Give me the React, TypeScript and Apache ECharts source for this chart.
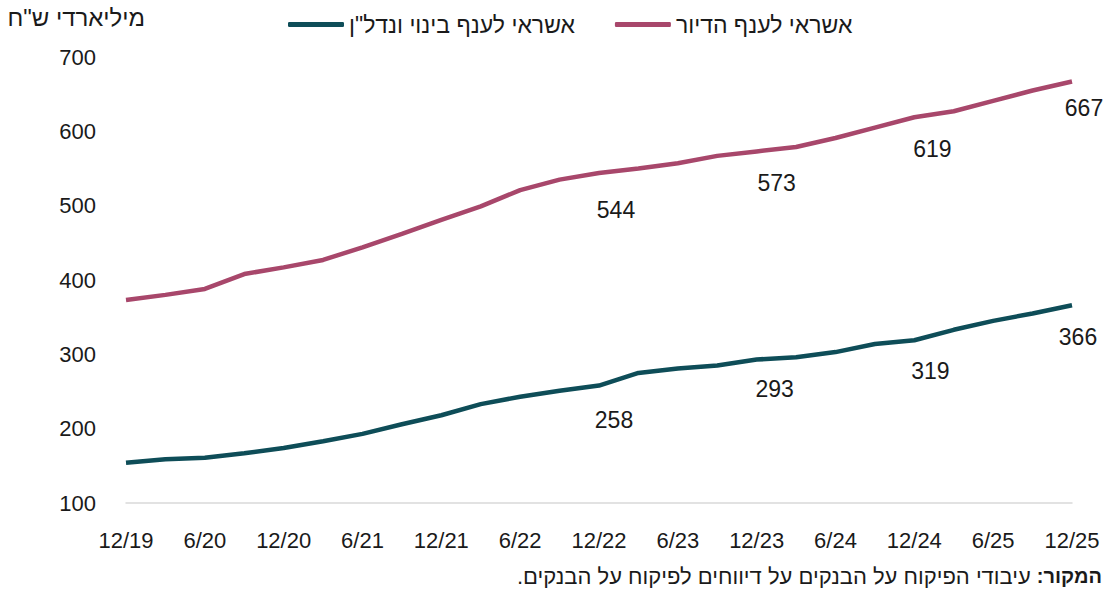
import React, { useEffect, useRef } from "react";
import * as echarts from "echarts";

const categories = [
  "12/19", "3/20", "6/20", "9/20", "12/20", "3/21", "6/21", "9/21", "12/21",
  "3/22", "6/22", "9/22", "12/22", "3/23", "6/23", "9/23", "12/23",
  "3/24", "6/24", "9/24", "12/24", "3/25", "6/25", "9/25", "12/25",
];
const housing = [
  373, 380, 388, 408, 417, 427, 444, 462, 481, 499, 521, 535, 544,
  550, 557, 567, 573, 579, 591, 605, 619, 627, 641, 655, 667,
];
const construction = [
  154, 159, 161, 167, 174, 183, 193, 206, 218, 233, 243, 251, 258,
  275, 281, 285, 293, 296, 303, 314, 319, 333, 345, 355, 366,
];
const labeledIdx = [12, 16, 20, 24];
const housingName = "אשראי לענף הדיור";
const constructionName = "אשראי לענף בינוי ונדל\"ן";
const unitLabel = "מיליארדי ש\"ח";
const sourceBold = "המקור:\u200F";
const sourceText = "עיבודי הפיקוח על הבנקים על דיווחים לפיקוח על הבנקים.\u200F";

const FONT = "'Liberation Sans', Arial, sans-serif";

// label placement (style only), one entry per labelled point
const housingLabelShift = [[17, 5], [20, 0], [18, 0], [12, -5]];
const constructionLabelShift = [[15, 3], [18, -2], [16, -1], [6, 0]];

function withLabels(values: number[], shifts: number[][]) {
  return values.map((v, i) => {
    const k = labeledIdx.indexOf(i);
    return k >= 0 ? { value: v, label: { show: true, offset: shifts[k] } } : { value: v };
  });
}

export default function App() {
  const ref = useRef<HTMLDivElement>(null);
  useEffect(() => {
    if (!ref.current) return;
    const chart = echarts.init(ref.current, undefined, { renderer: "svg" });
    const labelStyle = {
      show: false,
      position: "bottom" as const,
      distance: 20,
      fontSize: 23,
      color: "#1a1a1a",
      fontFamily: FONT,
    };
    chart.setOption({
      animation: false,
      textStyle: { fontFamily: FONT },
      grid: { left: 126, right: 38, top: 57, bottom: 91 },
      legend: {
        left: 283,
        top: 8,
        itemWidth: 56,
        itemHeight: 5,
        itemGap: 40,
        icon: "roundRect",
        textStyle: { fontSize: 23, color: "#1a1a1a", fontFamily: FONT },
        data: [constructionName, housingName],
      },
      xAxis: {
        type: "category",
        data: categories,
        boundaryGap: false,
        axisLine: { lineStyle: { color: "#d9d9d9", width: 1.5 } },
        axisTick: { show: false },
        axisLabel: {
          interval: 1,
          margin: 26,
          fontSize: 22,
          color: "#1a1a1a",
          fontFamily: FONT,
        },
      },
      yAxis: {
        type: "value",
        min: 100,
        max: 700,
        interval: 100,
        splitLine: { show: false },
        axisLine: { show: false },
        axisTick: { show: false },
        axisLabel: {
          margin: 30,
          fontSize: 22,
          color: "#1a1a1a",
          fontFamily: FONT,
        },
      },
      graphic: [
        {
          type: "text",
          right: 965,
          top: 5,
          style: { text: unitLabel, fill: "#1a1a1a", font: `24px ${FONT}` },
        },
        {
          type: "text",
          right: 8,
          top: 565,
          style: {
            text: `{r|${sourceText}} {b|${sourceBold}}`,
            fill: "#1a1a1a",
            font: `22px ${FONT}`,
            rich: {
              r: { fontSize: 22, fontFamily: FONT, fill: "#1a1a1a" },
              b: { fontSize: 20, fontWeight: "bold", fontFamily: FONT, fill: "#1a1a1a" },
            },
          },
        },
      ],
      series: [
        {
          name: constructionName,
          type: "line",
          data: withLabels(construction, constructionLabelShift),
          showSymbol: true,
          symbol: "circle",
          symbolSize: 0.1,
          lineStyle: { color: "#0e4d58", width: 4.5 },
          itemStyle: { color: "#0e4d58" },
          label: labelStyle,
        },
        {
          name: housingName,
          type: "line",
          data: withLabels(housing, housingLabelShift),
          showSymbol: true,
          symbol: "circle",
          symbolSize: 0.1,
          lineStyle: { color: "#a8476b", width: 4.5 },
          itemStyle: { color: "#a8476b" },
          label: labelStyle,
        },
      ],
    });
    return () => chart.dispose();
  }, []);
  return (
    <div
      ref={ref}
      style={{ position: "absolute", left: 0, top: 0, width: 1110, height: 594 }}
    />
  );
}
